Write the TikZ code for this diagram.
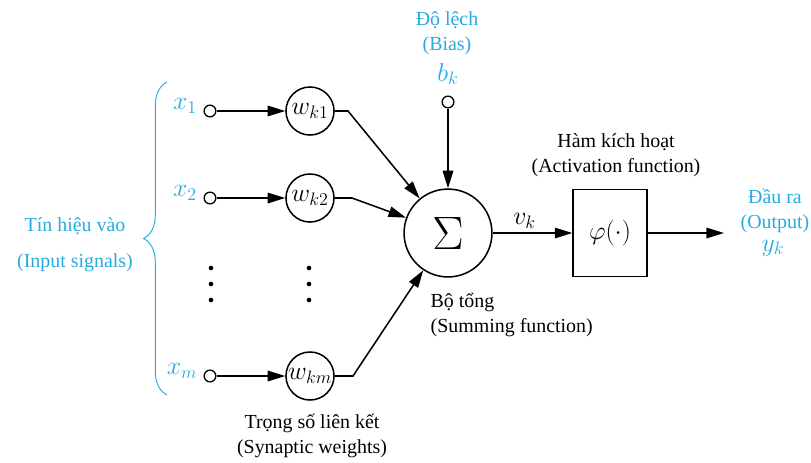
\RequirePackage{fix-cm}
\documentclass[tikz,border=0pt]{standalone}
\usepackage{fontspec}
\setmainfont{Liberation Serif}
\usepackage{tikz}
\usetikzlibrary{arrows.meta}
\usetikzlibrary{decorations.pathreplacing}
\definecolor{sigblue}{RGB}{38,170,226}

\begin{document}
\begin{tikzpicture}[x=0.03cm, y=-0.03cm, line width=1.3pt,
  every node/.style={font=\fontsize{17}{21}\selectfont, align=center},
  mth/.style={font=\fontsize{22}{24}\selectfont},
  lbl/.style={text=sigblue},
  port/.style={draw, circle, inner sep=0pt, minimum size=10pt, line width=1.1pt},
  weight/.style={draw, circle, inner sep=0pt, minimum size=41pt, mth},
  arr/.style={-{Triangle[length=15pt, width=9pt]}}]
  \useasboundingbox (0,0) rectangle (811,462);

  % inputs and weights
  \node[lbl, mth] (x1) at (185,106) {$x_1$};
  \node[port] (p1) at (210,111) {};
  \node[weight] (w1) at (310,111) {$w_{k1}$};

  \node[lbl, mth] (x2) at (185,193) {$x_2$};
  \node[port] (p2) at (210,198) {};
  \node[weight] (w2) at (310,198) {$w_{k2}$};

  \node[lbl, mth] (xm) at (182,371) {$x_m$};
  \node[port] (pm) at (210,376) {};
  \node[weight] (wm) at (310,376) {$w_{km}$};

  \foreach \y in {268,284,300} {
    \fill (211,\y) circle (2pt);
    \fill (309,\y) circle (2pt);
  }

  % sum, bias, activation
  \node[draw, circle, inner sep=0pt, minimum size=75pt] (sum) at (448,233)
    {\fontsize{40}{40}\selectfont$\Sigma$};
  \node[port] (bias) at (448,102) {};
  \node[lbl, mth] (bk) at (448,74) {$b_k$};
  \node[lbl] (biasname) at (447,33) {Độ lệch\\(Bias)};

  \node[draw, minimum width=63pt, minimum height=74pt, mth] (act) at (610,233) {$\varphi(\cdot)$};
  \node (actname) at (616,155) {Hàm kích hoạt\\(Activation function)};
  \node[anchor=west, align=left] (sumname) at (426,315) {Bộ tổng\\(Summing function)};
  \node (wname) at (312,436) {Trọng số liên kết\\(Synaptic weights)};

  \coordinate (out) at (724,233);
  \node[lbl] (outname) at (775,211) {Đầu ra\\(Output)};
  \node[lbl, mth] (yk) at (773,248) {$y_k$};

  \draw[arr] (p1) -- (w1);
  \draw[arr] (p2) -- (w2);
  \draw[arr] (pm) -- (wm);
  \draw[arr] (w1.east) -- (348,111) -- (sum);
  \draw[arr] (w2.east) -- (352,198) -- (sum);
  \draw[arr] (wm.east) -- (353,376) -- (sum);
  \draw[arr] (bias) -- (sum);
  \draw[arr] (sum) -- node[above, pos=.4, mth] {$v_k$} (act);
  \draw[arr] (act) -- (out);

  % input brace
  \draw[sigblue, line width=0.8pt, decorate, decoration={brace, amplitude=20pt}]
    (167,395) -- (167,82);
  \node[lbl] (inname) at (75,245) {Tín hiệu vào\\[10pt](Input signals)};
\end{tikzpicture}
\end{document}
